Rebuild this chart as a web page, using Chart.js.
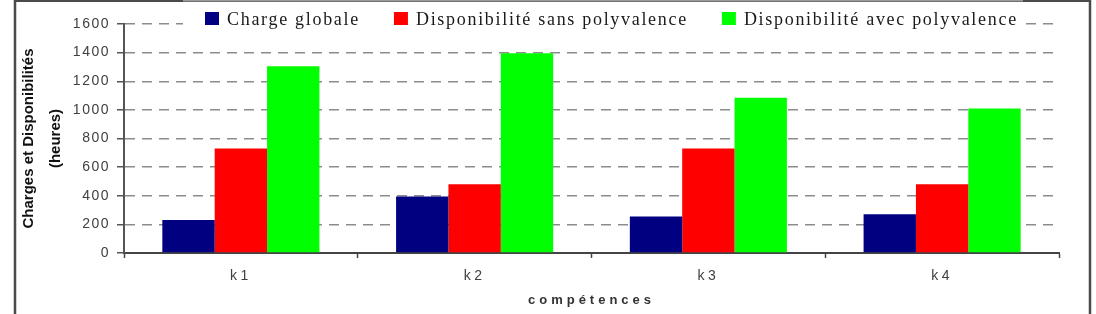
<!DOCTYPE html>
<html>
<head>
<meta charset="utf-8">
<script src="https://cdn.jsdelivr.net/npm/chart.js@4.4.1/dist/chart.umd.min.js"></script>
<style>
html,body{margin:0;padding:0;background:#fff;}
#wrap{width:1096px;height:314px;}
</style>
</head>
<body>
<div id="wrap"><canvas id="c" width="1096" height="314"></canvas></div>
<script>
// ---- data ----
const categories = ['k1', 'k2', 'k3', 'k4'];
const seriesLabels = ['Charge globale', 'Disponibilité sans polyvalence', 'Disponibilité avec polyvalence'];
const chargeGlobale = [230, 395, 255, 270];
const dispoSansPolyvalence = [730, 480, 730, 480];
const dispoAvecPolyvalence = [1305, 1395, 1085, 1010];
const yMin = 0, yMax = 1600, yStep = 200;
const yTitle = ['Charges et Disponibilités', '(heures)'];
const xTitle = 'compétences';
const seriesColors = ['#000080', '#FF0000', '#00FF00'];

function patchSpacing(scale, labelSp, titleSp) {
  if (scale.__patched) return;
  scale.__patched = true;
  const dl = scale.drawLabels, dt = scale.drawTitle;
  scale.drawLabels = function (a) { const c = this.ctx; c.save(); c.letterSpacing = labelSp; dl.call(this, a); c.restore(); };
  scale.drawTitle = function () { const c = this.ctx; c.save(); c.letterSpacing = titleSp; dt.call(this); c.restore(); };
}

const legendAndFrame = {
  id: 'legendAndFrame',
  afterDraw(chart) {
    const ctx = chart.ctx;
    ctx.save();
    // legend box
    ctx.fillStyle = '#fff';
    ctx.fillRect(183, 0, 840, 36);
    // outer frame
    ctx.strokeStyle = '#4a4a4a';
    ctx.lineWidth = 2.5;
    ctx.beginPath();
    ctx.moveTo(15, 320); ctx.lineTo(15, 0.8); ctx.lineTo(1090, 0.8); ctx.lineTo(1090, 320);
    ctx.stroke();
    ctx.strokeStyle = '#9a9a9a';
    ctx.lineWidth = 1.5;
    ctx.beginPath(); ctx.moveTo(183, 0.8); ctx.lineTo(1023, 0.8); ctx.stroke();
    // legend items
    ctx.font = '18px "Liberation Serif", "Times New Roman", serif';
    ctx.letterSpacing = '1.7px';
    ctx.textBaseline = 'alphabetic';
    ctx.textAlign = 'left';
    let x = 205;
    chart.data.datasets.forEach((ds) => {
      ctx.fillStyle = ds.backgroundColor;
      ctx.fillRect(x, 12, 14, 13);
      ctx.fillStyle = '#1a1a1a';
      ctx.fillText(ds.label, x + 22, 25);
      x += 22 + ctx.measureText(ds.label).width + 34;
    });
    ctx.restore();
  }
};

new Chart(document.getElementById('c'), {
  type: 'bar',
  data: {
    labels: categories,
    datasets: [
      { label: seriesLabels[0], data: chargeGlobale, backgroundColor: seriesColors[0] },
      { label: seriesLabels[1], data: dispoSansPolyvalence, backgroundColor: seriesColors[1] },
      { label: seriesLabels[2], data: dispoAvecPolyvalence, backgroundColor: seriesColors[2] }
    ]
  },
  options: {
    responsive: false,
    animation: false,
    devicePixelRatio: 1,
    layout: { padding: { top: 24, right: 37, left: 0, bottom: 0 } },
    datasets: { bar: { barPercentage: 1.0, categoryPercentage: 0.672, borderWidth: 0 } },
    plugins: { legend: { display: false }, tooltip: { enabled: false } },
    scales: {
      x: {
        offset: true,
        grid: { display: true, drawOnChartArea: false, offset: true, tickLength: 5, tickColor: '#444', tickWidth: 1.5 },
        border: { display: true, color: '#444', width: 2 },
        ticks: { color: '#404040', padding: 10, font: { family: '"Liberation Sans", Arial, sans-serif', size: 14 } },
        title: { display: true, text: xTitle, color: '#333', padding: { top: 0, bottom: 6 },
                 font: { family: '"Liberation Sans", Arial, sans-serif', size: 13, weight: 'bold', lineHeight: 1.2 } },
        afterFit(scale) { scale.height = 61; },
        afterUpdate(scale) { patchSpacing(scale, '3.5px', '4px'); }
      },
      y: {
        min: yMin, max: yMax,
        ticks: { stepSize: yStep, color: '#404040', padding: 7,
                 callback: (v) => String(v),
                 font: { family: '"Liberation Sans", Arial, sans-serif', size: 14 } },
        grid: {
          color: (c) => (c.tick && c.tick.value === 0) ? 'rgba(0,0,0,0)' : '#8c8c8c',
          lineWidth: 1.5, tickLength: 7, tickColor: '#555', tickWidth: 1.5, tickBorderDash: []
        },
        border: { display: true, color: '#555', width: 2, dash: [10, 7] },
        title: { display: true, text: yTitle, color: '#111', padding: { top: 15, bottom: 0 },
                 font: { family: '"Liberation Sans", Arial, sans-serif', size: 15, weight: 'bold', lineHeight: 1.8 } },
        afterFit(scale) { scale.width = 124; },
        afterUpdate(scale) { patchSpacing(scale, '1.5px', '0px'); }
      }
    }
  },
  plugins: [legendAndFrame]
});
</script>
</body>
</html>
